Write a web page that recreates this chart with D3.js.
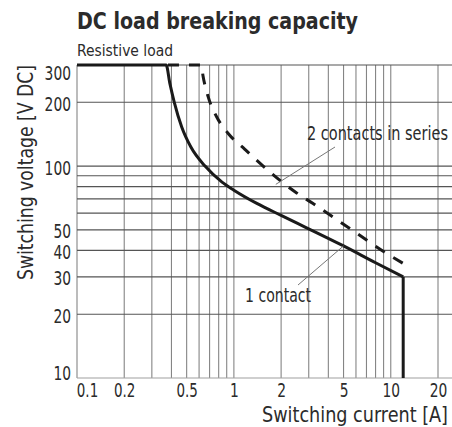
<!DOCTYPE html>
<html>
<head>
<meta charset="utf-8">
<script src="https://cdn.jsdelivr.net/npm/d3@7"></script>
<style>
  body { margin: 0; background: #fff; }
  svg text { font-family: "Liberation Sans Narrow", "DejaVu Sans Condensed", "Roboto", sans-serif; font-stretch: condensed; fill: #2b2b2b; }
</style>
</head>
<body>
<svg id="chart" width="452" height="427"></svg>
<script>
// curve data
const current1 = [0.1, 0.37, 0.391, 0.417, 0.465, 0.532, 0.655, 0.84, 1.0, 1.41, 2, 5, 8, 12]
const voltage1 = [300, 300, 245, 200, 153, 123, 100, 84, 77, 66.5, 58.5, 42, 35, 30]
const cutoffCurrent = 12
const cutoffVoltage = [30, 10]

const current2 = [0.38, 0.62, 0.635, 0.686, 0.776, 0.92, 1.175, 1.47, 2.45, 3.18, 5.48, 9.4, 12.6]
const voltage2 = [300, 300, 268, 212, 171, 142.6, 120, 103, 75.7, 66.7, 50.8, 38.7, 34]

const xTicks = [0.1, 0.2, 0.5, 1, 2, 5, 10, 20]
const yTicks = [10, 20, 30, 40, 50, 100, 200, 300]
const xGrid = [0.1, 0.2, 0.3, 0.4, 0.5, 0.6, 0.7, 0.8, 0.9, 1, 2, 3, 4, 5, 6, 7, 8, 9, 10, 20]
const yGrid = [10, 20, 30, 40, 50, 60, 70, 80, 90, 100, 200, 300]

const svg = d3.select("#chart")
const plotL = 77, plotR = 438, plotT = 65, plotB = 378

let x = d3.scaleLog().domain([0.1, 20]).range([plotL, plotR])
let y = d3.scaleLog().domain([10, 300]).range([plotB, plotT])

// narrow digits like the datasheet font
let labelWidth = s => s.split("").reduce((w, c) => w + (c == "." ? 3.8 : 8.8), 0)

// grid
svg.append("g")
  .selectAll("line")
  .data(xGrid)
  .join("line")
    .attr("x1", d => x(d)).attr("x2", d => x(d))
    .attr("y1", plotT).attr("y2", plotB)
    .attr("stroke", "#858585")
    .attr("stroke-width", 1.1)

svg.append("g")
  .selectAll("line")
  .data(yGrid)
  .join("line")
    .attr("x1", plotL).attr("x2", 452)
    .attr("y1", d => y(d)).attr("y2", d => y(d))
    .attr("stroke", d => d == 10 ? "#a0a0a0" : "#555")
    .attr("stroke-width", 1.1)

// axes (labels only)
let yAxis = svg.append("g")
  .attr("transform", `translate(${plotL - 6},0)`)
  .call(d3.axisLeft(y).tickValues(yTicks).tickFormat(d3.format("d")).tickSize(0).tickPadding(0))
yAxis.select(".domain").remove()
yAxis.selectAll("text")
  .attr("font-size", 20)
  .attr("fill", "#2b2b2b")
  .attr("textLength", d => labelWidth(String(d)))
  .attr("lengthAdjust", "spacingAndGlyphs")
  .attr("dy", d => d == 300 ? "0.72em" : d == 10 ? "0.05em" : "0.4em")

let xAxis = svg.append("g")
  .attr("transform", `translate(0,${plotB})`)
  .call(d3.axisBottom(x).tickValues(xTicks).tickFormat(d => String(d)).tickSize(0).tickPadding(0))
xAxis.select(".domain").remove()
xAxis.selectAll("text")
  .attr("font-size", 20)
  .attr("fill", "#2b2b2b")
  .attr("textLength", d => labelWidth(String(d)))
  .attr("lengthAdjust", "spacingAndGlyphs")
  .attr("y", 19)
  .attr("dy", 0)
  .attr("dx", d => d == 0.1 ? 10 : 0)

// curves
let line = d3.line()
  .x(d => x(d[0]))
  .y(d => y(d[1]))
  .curve(d3.curveMonotoneX)

svg.append("path")
  .datum(d3.zip(current2, voltage2))
  .attr("d", line)
  .attr("fill", "none")
  .attr("stroke", "#1a1a1a")
  .attr("stroke-width", 3)
  .attr("stroke-dasharray", "11,10")

svg.append("path")
  .datum(d3.zip(current1, voltage1))
  .attr("d", line)
  .attr("fill", "none")
  .attr("stroke", "#1a1a1a")
  .attr("stroke-width", 3)

svg.append("line")
  .attr("x1", x(cutoffCurrent)).attr("x2", x(cutoffCurrent))
  .attr("y1", y(cutoffVoltage[0])).attr("y2", y(cutoffVoltage[1]))
  .attr("stroke", "#1a1a1a")
  .attr("stroke-width", 3)

// leaders + labels
svg.append("line")
  .attr("x1", x(1.85)).attr("y1", y(82))
  .attr("x2", 335).attr("y2", 147)
  .attr("stroke", "#777").attr("stroke-width", 1)
svg.append("text")
  .attr("x", 307).attr("y", 140)
  .attr("font-size", 20)
  .attr("textLength", 141).attr("lengthAdjust", "spacingAndGlyphs")
  .text("2 contacts in series")

svg.append("line")
  .attr("x1", x(5)).attr("y1", y(42))
  .attr("x2", 298).attr("y2", 285)
  .attr("stroke", "#777").attr("stroke-width", 1)
svg.append("text")
  .attr("x", 245).attr("y", 302)
  .attr("font-size", 20)
  .attr("textLength", 66).attr("lengthAdjust", "spacingAndGlyphs")
  .text("1 contact")

// titles
svg.append("text")
  .attr("x", 77).attr("y", 29)
  .attr("font-size", 23).attr("font-weight", "bold")
  .attr("fill", "#1a1a1a")
  .attr("textLength", 281).attr("lengthAdjust", "spacingAndGlyphs")
  .text("DC load breaking capacity")

svg.append("text")
  .attr("x", 77).attr("y", 56)
  .attr("font-size", 15)
  .attr("textLength", 96).attr("lengthAdjust", "spacingAndGlyphs")
  .text("Resistive load")

svg.append("text")
  .attr("transform", "translate(33,172.5) rotate(-90)")
  .attr("text-anchor", "middle")
  .attr("font-size", 22)
  .attr("textLength", 215).attr("lengthAdjust", "spacingAndGlyphs")
  .text("Switching voltage [V DC]")

svg.append("text")
  .attr("x", 262).attr("y", 422)
  .attr("font-size", 22)
  .attr("textLength", 186).attr("lengthAdjust", "spacingAndGlyphs")
  .text("Switching current [A]")
</script>
</body>
</html>
